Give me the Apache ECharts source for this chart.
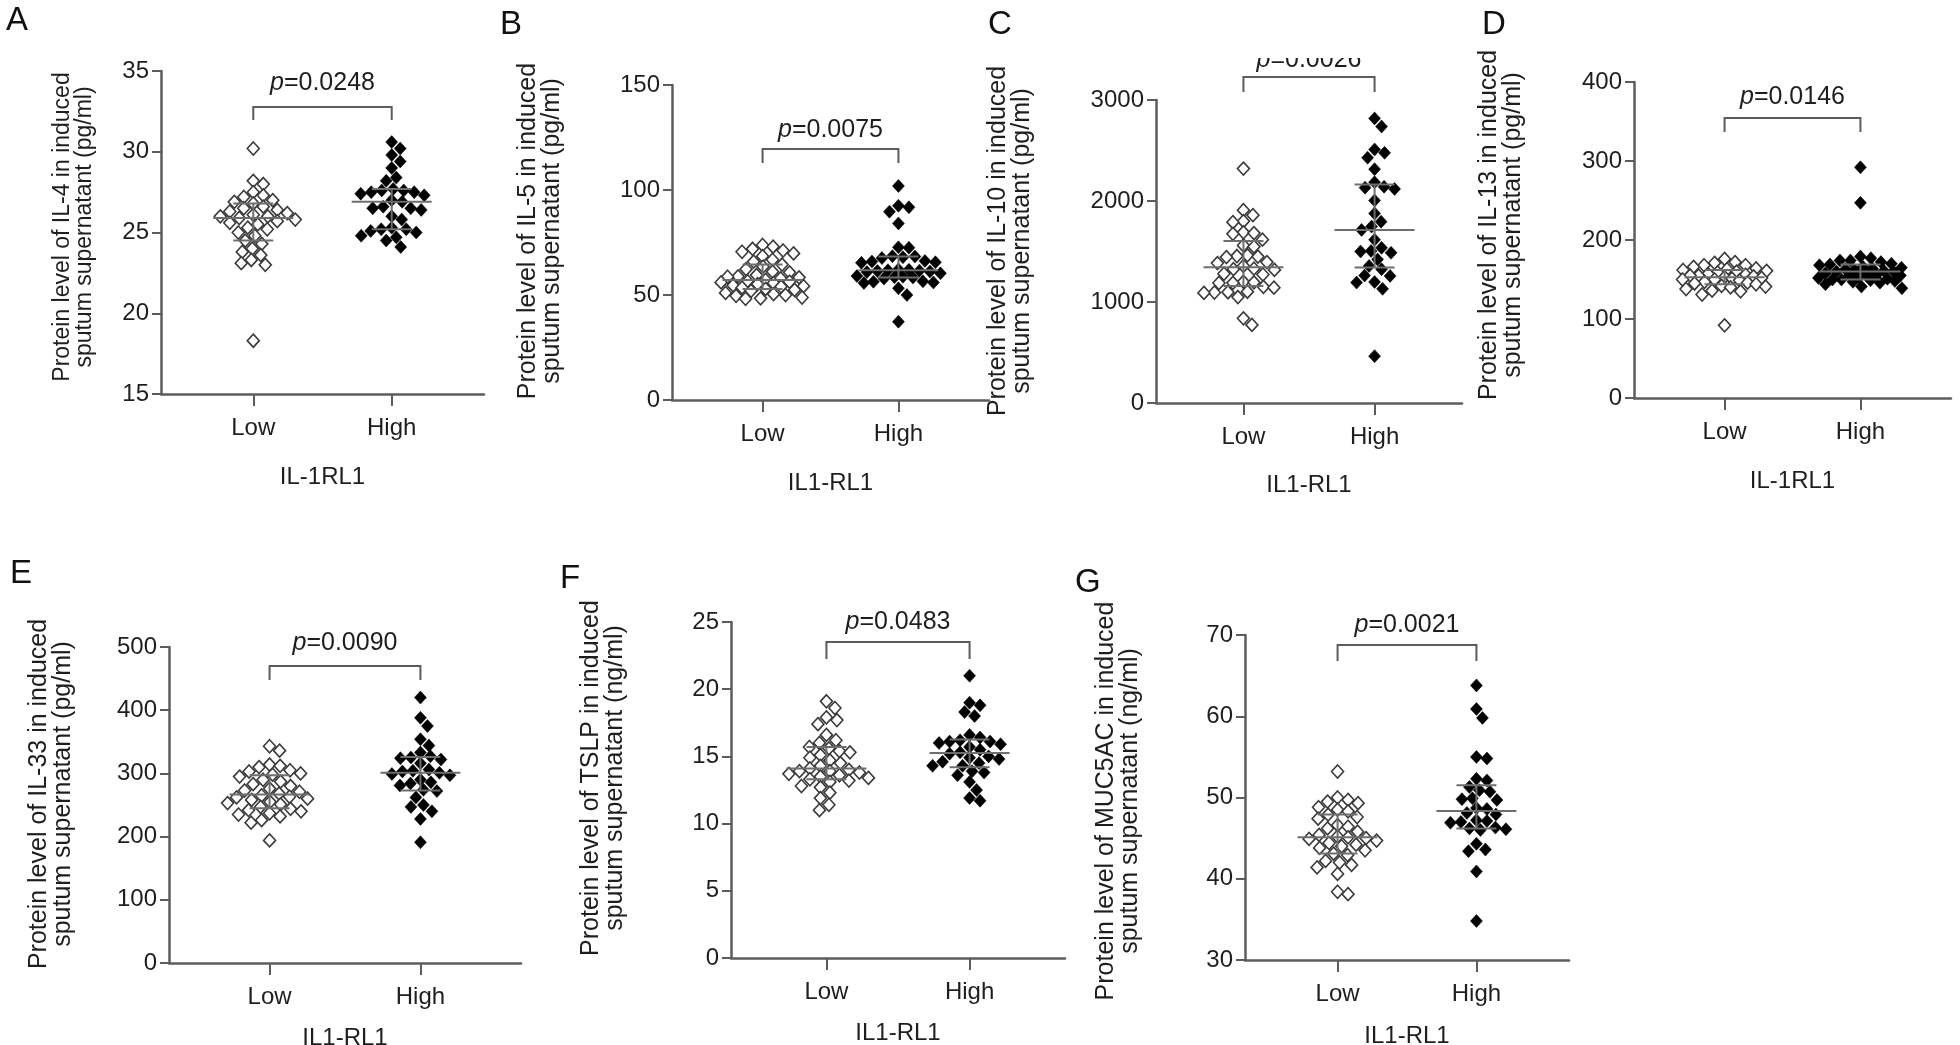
<!DOCTYPE html>
<html>
<head>
<meta charset="utf-8">
<script src="https://cdn.jsdelivr.net/npm/echarts@6/dist/echarts.min.js"></script>
<style>
html, body { margin: 0; padding: 0; background: #fff; }
#main { width: 1960px; height: 1045px; }
</style>
</head>
<body>
<div id="main"></div>
<script>
// ---- values ----
const groups = ['Low', 'High'];
const letters = ['A', 'B', 'C', 'D', 'E', 'F', 'G'];
const pValues = ['0.0248', '0.0075', '0.0026', '0.0146', '0.0090', '0.0483', '0.0021'];
const xTitles = ['IL-1RL1', 'IL1-RL1', 'IL1-RL1', 'IL-1RL1', 'IL1-RL1', 'IL1-RL1', 'IL1-RL1'];
const yTitles = [
  'Protein level of IL-4 in induced\nsputum supernatant (pg/ml)',
  'Protein level of IL-5 in induced\nsputum supernatant (pg/ml)',
  'Protein level of IL-10 in induced\nsputum supernatant (pg/ml)',
  'Protein level of IL-13 in induced\nsputum supernatant (pg/ml)',
  'Protein level of IL-33 in induced\nsputum supernatant (pg/ml)',
  'Protein level of TSLP in induced\nsputum supernatant (ng/ml)',
  'Protein level of MUC5AC in induced\nsputum supernatant (ng/ml)'
];
const yMin = [15, 0, 0, 0, 0, 0, 30];
const yMax = [35, 150, 3000, 400, 500, 25, 70];
const yStep = [5, 50, 1000, 100, 100, 5, 10];

const il4Low = [30.2, 28.2, 28.0, 27.5, 27.3, 27.2, 27.0, 26.9, 26.8, 26.6, 26.5, 26.4, 26.3, 26.2, 26.1, 26.0, 26.0, 25.9,
  25.8, 25.7, 25.6, 25.5, 25.3, 25.2, 25.0, 24.8, 24.5, 24.3, 24.0, 23.8, 23.6, 23.3, 23.1, 23.0, 18.3];
const il4High = [30.6, 30.2, 29.8, 29.4, 29.0, 28.4, 28.2, 27.7, 27.6, 27.6, 27.5, 27.5, 27.4, 27.3, 27.0, 26.9, 26.6, 26.5,
  26.5, 26.4, 26.0, 25.8, 25.3, 25.2, 25.2, 25.1, 25.0, 24.8, 24.7, 24.5, 24.1];

const il5Low = [73.8, 73.0, 72.0, 71.2, 70.6, 69.8, 68.5, 66.8, 65.9, 64.5, 63.5, 62.3, 61.1, 60.8, 59.5, 58.9, 58.7, 58.4,
  57.9, 57.2, 56.6, 56.3, 56.0, 55.7, 55.2, 54.6, 54.2, 54.0, 53.5, 52.9, 52.4, 52.0, 51.0, 50.4, 50.0, 49.6, 48.8, 48.4, 48.2];
const il5High = [101.9, 92.5, 91.8, 89.7, 84.1, 72.7, 72.5, 68.5, 68.3, 68.0, 67.6, 66.2, 65.9, 65.6, 65.3, 62.2, 62.0, 61.8,
  61.6, 61.4, 61.2, 60.9, 60.3, 59.0, 58.7, 58.5, 58.3, 57.8, 56.5, 56.3, 56.0, 55.7, 53.2, 50.0, 37.3];

const il10Low = [2321, 1909, 1860, 1800, 1790, 1690, 1682, 1675, 1617, 1560, 1548, 1462, 1455, 1450, 1445, 1395, 1385, 1357,
  1330, 1325, 1318, 1280, 1272, 1200, 1195, 1190, 1188, 1150, 1142, 1102, 1097, 1094, 1090, 1049, 838, 773];
const il10High = [2818, 2737, 2510, 2477, 2429, 2315, 2185, 2140, 2132, 2120, 2006, 1877, 1795, 1747, 1714, 1617, 1536, 1505,
  1500, 1487, 1422, 1357, 1325, 1262, 1258, 1198, 1192, 1130, 464];

const il13Low = [176, 172, 171, 168, 168, 166, 164, 163, 162, 161, 160, 159, 157, 156, 155, 155, 154, 153, 152, 151, 150, 150,
  149, 147, 146, 145, 144, 142, 141, 140, 138, 136, 135, 131, 92];
const il13High = [292, 247, 179, 177, 174, 174, 172, 170, 169, 168, 166, 165, 164, 163, 162, 161, 160, 160, 158, 157, 156,
  155, 155, 153, 152, 151, 150, 150, 149, 148, 147, 146, 144, 141, 139];

const il33Low = [343, 336, 314, 312, 310, 305, 303, 300, 298, 295, 290, 287, 283, 280, 276, 273, 271, 268, 265, 263, 262, 260,
  258, 255, 253, 251, 247, 244, 242, 240, 237, 235, 232, 226, 222, 194];
const il33High = [420, 388, 375, 354, 344, 333, 327, 325, 324, 322, 316, 306, 304, 303, 301, 299, 297, 290, 286, 284, 281, 274,
  272, 262, 250, 247, 240, 228, 191];

const tslpLow = [19.1, 18.6, 17.9, 17.7, 17.4, 16.6, 16.2, 16.0, 15.7, 15.6, 15.4, 15.3, 15.1, 14.9, 14.7, 14.5, 14.3, 14.1,
  14.0, 13.9, 13.9, 13.8, 13.7, 13.6, 13.5, 13.4, 13.3, 13.2, 13.1, 12.8, 12.7, 12.3, 11.9, 11.4, 11.0];
const tslpHigh = [21.0, 19.0, 18.8, 18.3, 18.0, 16.6, 16.4, 16.2, 16.1, 16.1, 16.0, 15.9, 15.7, 15.5, 15.3, 15.2, 15.0, 14.9,
  14.8, 14.6, 14.5, 14.3, 14.3, 13.9, 13.8, 13.6, 13.1, 12.5, 11.9, 11.7];

const muc5acLow = [53.2, 50.0, 49.7, 49.5, 49.3, 48.8, 48.5, 48.3, 47.9, 47.6, 47.4, 46.6, 46.4, 46.2, 45.8, 45.4, 45.2, 45.1,
  45.0, 44.9, 44.7, 44.4, 44.2, 44.0, 43.8, 43.5, 43.1, 42.9, 42.2, 42.0, 41.7, 41.4, 40.6, 38.4, 38.1];
const muc5acHigh = [63.8, 60.9, 59.8, 55.0, 54.8, 52.3, 52.1, 51.3, 50.9, 50.7, 49.9, 49.8, 49.7, 48.7, 48.6, 48.1, 47.9, 47.2,
  47.1, 47.0, 46.9, 46.3, 46.2, 46.1, 46.0, 44.3, 43.6, 43.4, 40.9, 34.8];

const lowVals = [il4Low, il5Low, il10Low, il13Low, il33Low, tslpLow, muc5acLow];
const highVals = [il4High, il5High, il10High, il13High, il33High, tslpHigh, muc5acHigh];

// ---- layout (pixels) ----
const panels = [
  {left: 161, top: 71, width: 323, height: 323, letter: [6, 4], title: [74, 227, 23], bracket: [107, 120], pY: 83, nameGap: 71},
  {left: 672, top: 85, width: 317, height: 315, letter: [500, 8], title: [540, 231, 25], bracket: [149, 163], pY: 130, nameGap: 71},
  {left: 1156, top: 100, width: 306, height: 303, letter: [988, 8], title: [1010, 241, 25], bracket: [77, 92], pY: 60, cut: 58, nameGap: 70},
  {left: 1634, top: 82, width: 317, height: 316, letter: [1482, 8], title: [1501, 225, 25], bracket: [118, 132], pY: 97, nameGap: 71},
  {left: 169, top: 647, width: 352, height: 316, letter: [10, 557], title: [51, 794, 25], bracket: [666, 680], pY: 643, nameGap: 63},
  {left: 731, top: 622, width: 334, height: 336, letter: [560, 562], title: [603, 778, 25], bracket: [642, 659], pY: 622, nameGap: 63},
  {left: 1245, top: 635, width: 324, height: 325, letter: [1075, 566], title: [1118, 801, 25], bracket: [645, 661], pY: 625, nameGap: 64}
];

const FONT = 'Liberation Sans, Arial, Helvetica, sans-serif';
const TXT = '#1e1e1e';
const AX = '#5c5c5c';

// beeswarm: push points sideways (px) until they stop colliding; inside maxW let them overlap
function swarm(vals, pxPerVal, d, maxW) {
  const order = vals.map((v, i) => i).sort((a, b) => vals[b] - vals[a]);
  const placed = [];
  const off = new Array(vals.length);
  order.forEach(i => {
    const y = vals[i] * pxPerVal;
    let best = null, fallback = 0, fallbackScore = -1;
    for (let k = 0; k * 0.5 <= maxW && best === null; k++) {
      const cands = k === 0 ? [0] : [k * 0.5, -k * 0.5];
      for (const x of cands) {
        let md = Infinity;
        placed.forEach(p => { md = Math.min(md, Math.hypot(p.x - x, p.y - y)); });
        if (md >= d) { best = x; break; }
        if (md > fallbackScore + 0.5) { fallbackScore = md; fallback = x; }
      }
    }
    off[i] = best === null ? fallback : best;
    placed.push({x: off[i], y: y});
  });
  return off;
}

function quantile(sorted, p) {
  const n = sorted.length;
  let pos = (n + 1) * p - 1;
  pos = Math.max(0, Math.min(n - 1, pos));
  const lo = Math.floor(pos), hi = Math.ceil(pos);
  return sorted[lo] + (sorted[hi] - sorted[lo]) * (pos - lo);
}

function stats(vals) {
  const s = vals.slice().sort((a, b) => a - b);
  return [quantile(s, 0.5), quantile(s, 0.25), quantile(s, 0.75)];
}

const grid = [], xAxis = [], yAxis = [], series = [], graphic = [];

panels.forEach((pn, i) => {
  const unit = pn.width / 3.5;
  const pxPerVal = pn.height / (yMax[i] - yMin[i]);
  const cats = [1, 2.5];

  grid.push({left: pn.left, top: pn.top, width: pn.width, height: pn.height, outerBoundsMode: 'none'});

  xAxis.push({
    gridIndex: i, type: 'value', min: 0, max: 3.5,
    axisLine: {show: true, onZero: false, lineStyle: {color: AX, width: 2.5}},
    axisTick: {show: true, customValues: cats, length: 12, lineStyle: {color: AX, width: 2}},
    axisLabel: {customValues: cats, formatter: v => (v < 2 ? groups[0] : groups[1]),
      margin: 22, fontSize: 24, fontFamily: FONT, color: TXT},
    splitLine: {show: false},
    name: xTitles[i], nameLocation: 'middle', nameGap: pn.nameGap,
    nameTextStyle: {fontSize: 24, fontFamily: FONT, color: TXT}
  });

  yAxis.push({
    gridIndex: i, type: 'value', min: yMin[i], max: yMax[i], interval: yStep[i],
    axisLine: {show: true, onZero: false, lineStyle: {color: AX, width: 2.5}},
    axisTick: {show: true, length: 9, lineStyle: {color: AX, width: 2}},
    axisLabel: {margin: 12, fontSize: 24, fontFamily: FONT, color: TXT, formatter: v => String(v)},
    splitLine: {show: false}
  });

  [lowVals[i], highVals[i]].forEach((vals, g) => {
    const off = swarm(vals, pxPerVal, 10.5, 42);
    series.push({
      type: 'scatter', xAxisIndex: i, yAxisIndex: i, z: 2,
      symbol: 'diamond', symbolSize: [12, 13],
      itemStyle: g === 0
        ? {color: '#fff', borderColor: '#3a3a3a', borderWidth: 1.6, opacity: 1}
        : {color: '#000', borderColor: '#000', borderWidth: 0.5, opacity: 1},
      data: vals.map((v, k) => [cats[g] + off[k] / unit, v]),
      animation: false, silent: true
    });
  });

  series.push({
    type: 'custom', xAxisIndex: i, yAxisIndex: i, z: 4, animation: false, silent: true,
    encode: {x: 0, y: 1},
    data: [[cats[0]].concat(stats(lowVals[i])), [cats[1]].concat(stats(highVals[i]))],
    renderItem: (params, api) => {
      const x = api.value(0);
      const pm = api.coord([x, api.value(1)]);
      const p1 = api.coord([x, api.value(2)]);
      const p3 = api.coord([x, api.value(3)]);
      const st = {stroke: '#6e6e6e', lineWidth: 2};
      return {type: 'group', children: [
        {type: 'line', shape: {x1: pm[0] - 40, y1: pm[1], x2: pm[0] + 40, y2: pm[1]}, style: st},
        {type: 'line', shape: {x1: p1[0], y1: p1[1], x2: p3[0], y2: p3[1]}, style: st},
        {type: 'line', shape: {x1: p1[0] - 20, y1: p1[1], x2: p1[0] + 20, y2: p1[1]}, style: st},
        {type: 'line', shape: {x1: p3[0] - 20, y1: p3[1], x2: p3[0] + 20, y2: p3[1]}, style: st}
      ]};
    }
  });

  // panel letter
  graphic.push({type: 'text', x: pn.letter[0], y: pn.letter[1],
    style: {text: letters[i], fontSize: 33, fontFamily: FONT, fill: '#111', textVerticalAlign: 'top'}});

  // y axis title, two lines reading upwards
  graphic.push({type: 'text', x: pn.title[0], y: pn.title[1], rotation: Math.PI / 2,
    style: {text: yTitles[i], fontSize: pn.title[2], lineHeight: pn.title[2] - 1, fontFamily: FONT, fill: TXT,
      textAlign: 'center', textVerticalAlign: 'middle'}});

  // significance bracket and p value
  const xl = pn.left + unit * cats[0], xh = pn.left + unit * cats[1];
  graphic.push({type: 'polyline', z: 5,
    shape: {points: [[xl, pn.bracket[1]], [xl, pn.bracket[0]], [xh, pn.bracket[0]], [xh, pn.bracket[1]]]},
    style: {stroke: AX, lineWidth: 2, fill: null}});
  graphic.push({type: 'text', x: (xl + xh) / 2, y: pn.pY, z: 5,
    style: {text: '{i|p}=' + pValues[i], fontSize: 25, fontFamily: FONT, fill: TXT,
      textAlign: 'center', textVerticalAlign: 'middle',
      rich: {i: {fontStyle: 'italic', fontSize: 25, fontFamily: FONT, fill: TXT}}}});
  if (pn.cut) {
    // the source figure is cropped through this label
    graphic.push({type: 'rect', z: 6, shape: {x: xl, y: pn.cut - 20, width: xh - xl, height: 20},
      style: {fill: '#fff'}});
  }
});

const chart = echarts.init(document.getElementById('main'), null, {renderer: 'canvas'});
chart.setOption({
  backgroundColor: '#fff',
  animation: false,
  grid: grid,
  xAxis: xAxis,
  yAxis: yAxis,
  series: series,
  graphic: graphic
});
</script>
</body>
</html>
